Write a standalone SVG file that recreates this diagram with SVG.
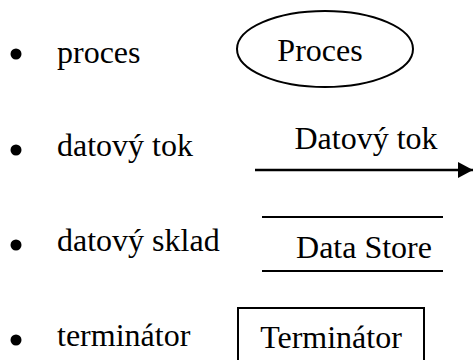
<svg xmlns="http://www.w3.org/2000/svg" width="473" height="360" viewBox="0 0 473 360">
  <style>
    text { font-size: 32px; fill: #000; }
    .shape { fill: none; stroke: #000; stroke-width: 2; }
    .bullet { fill: #000; }
  </style>
  <defs>
    <marker id="arrow" markerUnits="userSpaceOnUse" markerWidth="16" markerHeight="16" refX="15" refY="8" orient="auto">
      <path d="M0,0 L15,8 L0,16 Z" fill="#000"/>
    </marker>
  </defs>
  <rect width="473" height="360" fill="#fff"/>

  <g font-family="'Liberation Serif', 'Times New Roman', 'DejaVu Serif', serif">
    <!-- bullet list of notation names -->
    <g id="legend">
      <circle class="bullet" cx="16" cy="54" r="5.5"/>
      <text x="57" y="63">proces</text>
      <circle class="bullet" cx="16" cy="150" r="5.5"/>
      <text x="57" y="156">datový tok</text>
      <circle class="bullet" cx="16" cy="245" r="5.5"/>
      <text x="57" y="251">datový sklad</text>
      <circle class="bullet" cx="16" cy="340" r="5.5"/>
      <text x="57" y="346">terminátor</text>
    </g>

    <!-- process -->
    <g id="process">
      <ellipse class="shape" cx="325" cy="49" rx="88" ry="38"/>
      <text x="320" y="61" text-anchor="middle">Proces</text>
    </g>

    <!-- data flow -->
    <g id="connectors">
      <line x1="255" y1="170" x2="473" y2="170" stroke="#000" stroke-width="2.5" marker-end="url(#arrow)"/>
      <text x="366" y="149" text-anchor="middle">Datový tok</text>
    </g>

    <!-- data store -->
    <g id="data-store">
      <line class="shape" x1="262" y1="217" x2="443" y2="217"/>
      <line class="shape" x1="262" y1="271" x2="443" y2="271"/>
      <text x="364" y="258" text-anchor="middle">Data Store</text>
    </g>

    <!-- terminator -->
    <g id="terminator">
      <rect class="shape" x="238" y="308" width="186" height="60"/>
      <text x="331" y="348" text-anchor="middle">Terminátor</text>
    </g>
  </g>
</svg>
